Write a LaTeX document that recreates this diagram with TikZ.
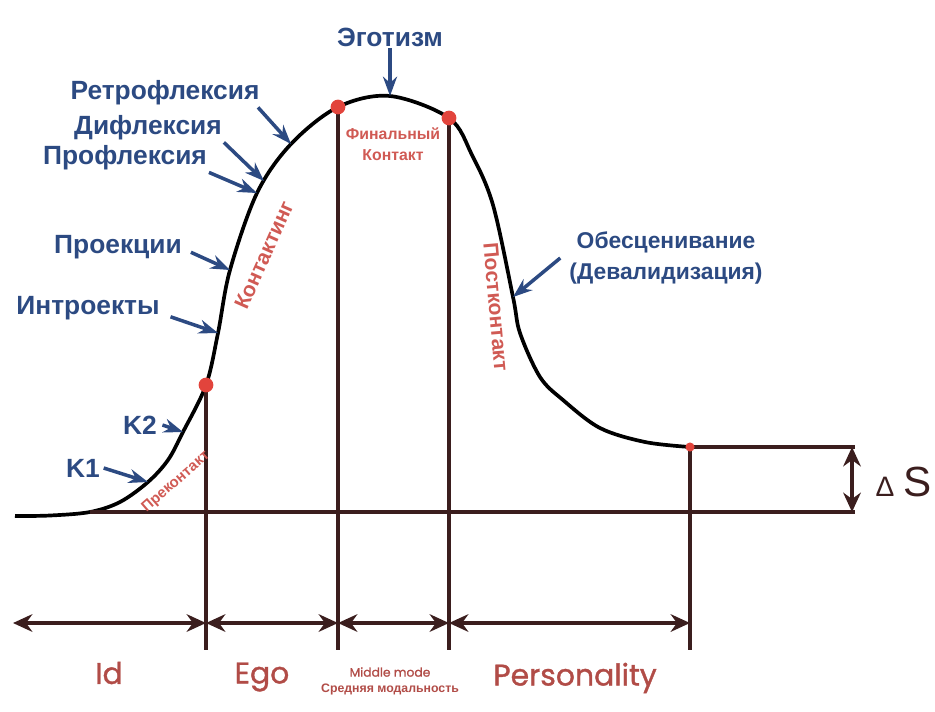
\documentclass[tikz,border=0pt]{standalone}
\usepackage{fontspec}
\setmainfont{Liberation Sans}
\newfontfamily\popfont{Poppins}[FakeBold=1.2]
\usetikzlibrary{arrows.meta,positioning}
\definecolor{bluetxt}{HTML}{2C4A82}
\definecolor{redtxt}{HTML}{D05A54}
\definecolor{lineb}{HTML}{3B1E1E}
\definecolor{dotred}{HTML}{E2443C}

\begin{document}
\begin{tikzpicture}[x=0.02cm,y=-0.02cm]
\tikzset{curve/.style={line width=2.1pt, black},
  vline/.style={line width=2pt, lineb},
  blarrow/.style={line width=2pt, bluetxt, -{Stealth[length=11pt,width=8pt]}},
  dimarr/.style={line width=2pt, lineb, {Stealth[length=11pt,width=10pt]}-{Stealth[length=11pt,width=10pt]}},
  bl/.style={text=bluetxt, font=\bfseries\fontsize{15}{17}\selectfont, inner sep=1pt},
  rd/.style={text=redtxt, font=\bfseries\fontsize{9}{12}\selectfont, inner sep=1pt},
  bot/.style={text=redtxt!85!black, font=\popfont\fontsize{17}{19}\selectfont, inner sep=1pt}}
\useasboundingbox (0,0) rectangle (935,711);
% points on the curve
\coordinate (c-k1) at (148,482);
\coordinate (c-k2) at (183,432);
\coordinate (c-pre) at (206,385);
\coordinate (c-intro) at (218,333);
\coordinate (c-proek) at (230,270);
\coordinate (c-profl) at (257,193);
\coordinate (c-difl) at (264,181);
\coordinate (c-retro) at (291,144);
\coordinate (c-fin1) at (338,107);
\coordinate (c-top) at (390,96);
\coordinate (c-fin2) at (449,118);
\coordinate (c-obes) at (513,297);
\coordinate (c-end) at (690,447);
\coordinate (base-l) at (90,512);
\coordinate (base-r) at (855,512);
\coordinate (arr) at (13,623);
\coordinate (low) at (0,650);
\coordinate (ds) at (852,0);

\draw[curve] plot[smooth, tension=0.55] coordinates {(15,516) (50,515.5) (base-l) (120,502) (c-k1)
  (168,460) (c-k2) (c-pre) (c-intro) (c-proek) (c-profl) (c-retro) (c-fin1) (c-top) (c-fin2)
  (472,155) (493,205) (c-obes) (520,333) (540,377) (563,400) (600,428) (645,442) (c-end)};

% vertical and horizontal lines
\draw[vline] (base-l) -- (base-r);
\draw[vline] (c-end) -- (base-r |- c-end);
\foreach \p in {c-pre,c-fin1,c-fin2,c-end}
  \draw[vline] (\p) -- (\p |- low);
\draw[dimarr] (ds |- c-end) -- (ds |- base-r);
\node[text=lineb, font=\fontsize{16}{18}\selectfont, inner sep=0pt] (delta) at (885,487) {Δ};
\node[text=lineb, font=\fontsize{24}{26}\selectfont, inner sep=0pt, right=5pt of delta.south east, anchor=south west] (s) {S};

% bottom arrows
\draw[dimarr] (arr) -- (c-pre |- arr);
\draw[dimarr] (c-pre |- arr) -- (c-fin1 |- arr);
\draw[dimarr] (c-fin1 |- arr) -- (c-fin2 |- arr);
\draw[dimarr] (c-fin2 |- arr) -- (c-end |- arr);

% red dots
\foreach \p in {c-pre,c-fin1,c-fin2}
  \fill[dotred] (\p) circle (4.2pt);
\fill[dotred] (c-end) circle (2.6pt);

% blue labels
\node[bl] (ego) at (390,37) {Эготизм};
\node[bl] (retro) at (165,93) {Ретрофлексия};
\node[bl] (difl) at (148,128) {Дифлексия};
\node[bl] (profl) at (125,158) {Профлексия};
\node[bl] (proek) at (118,247) {Проекции};
\node[bl] (intro) at (88,308) {Интроекты};
\node[bl] (k2) at (140,425) {K2};
\node[bl] (k1) at (83,468) {K1};
\node[bl, align=center, font=\bfseries\fontsize{13}{18}\selectfont] (obes) at (666,258) {Обесценивание\\(Девалидизация)};
\draw[blarrow] (ego.south) -- (c-top);
\draw[blarrow] ([xshift=-2pt]retro.south east) -- (c-retro);
\draw[blarrow] (difl.south east) -- (c-difl);
\draw[blarrow] (profl.south east) -- (c-profl);
\draw[blarrow] ([shift={(4pt,-3pt)}]proek.east) -- (c-proek);
\draw[blarrow] ([shift={(5pt,-5pt)}]intro.east) -- (c-intro);
\draw[blarrow] ([xshift=2pt]k2.east) -- (c-k2);
\draw[blarrow] ([xshift=1pt]k1.east) -- (c-k1);
\draw[blarrow] ([xshift=-4pt]obes.west) -- (c-obes);

% red labels
\node[rd, align=center] (fin) at (393,144) {Финальный\\Контакт};
\node[rd, font=\bfseries\fontsize{12}{14}\selectfont, rotate=66] (kont) at (264,255) {Контактинг};
\node[rd, font=\bfseries\fontsize{12}{14}\selectfont, rotate=-85] (post) at (496,307) {Постконтакт};
\node[rd, font=\bfseries\fontsize{8.5}{10}\selectfont, rotate=41] (pre) at (176,482) {Преконтакт};

% bottom labels
\node[bot] (id) at (109,673) {Id};
\node[bot] (egol) at (262,677) {Ego};
\node[text=redtxt!85!black, font=\popfont\fontsize{7}{9}\selectfont, inner sep=1pt] (mid) at (390,672) {Middle mode};
\node[text=redtxt!85!black, font=\bfseries\fontsize{7}{9}\selectfont, inner sep=1pt] (sred) at (390,689) {Средняя модальность};
\node[bot] (pers) at (575,678) {Personality};
\end{tikzpicture}
\end{document}
